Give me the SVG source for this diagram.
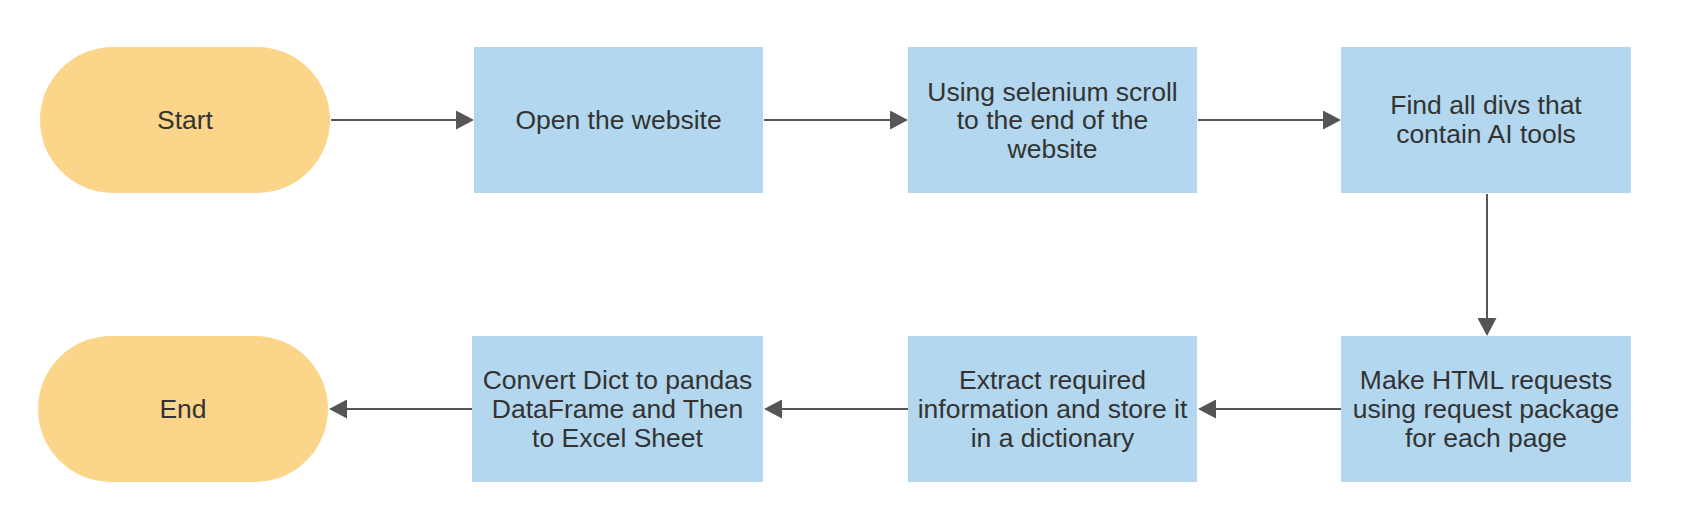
<svg xmlns="http://www.w3.org/2000/svg" width="1705" height="510" viewBox="0 0 1705 510">
<style>
.term{fill:#FBD58A;}
.proc{fill:#B2D7EE;}
text{font-family:"Liberation Sans",Arial,sans-serif;font-size:26.5px;fill:#333333;text-anchor:middle;}
.conn{stroke:#555555;stroke-width:2;fill:none;marker-end:url(#arr);}
</style>
<defs>
<marker id="arr" markerUnits="userSpaceOnUse" markerWidth="18" markerHeight="19" refX="16" refY="9.5" orient="auto">
<path d="M0,0 L18,9.5 L0,19 Z" fill="#555555"/>
</marker>
</defs>
<rect width="1705" height="510" fill="#FFFFFF"/>
<g id="connectors">
<line class="conn" x1="331" y1="120" x2="472" y2="120"/>
<line class="conn" x1="764" y1="120" x2="906" y2="120"/>
<line class="conn" x1="1198" y1="120" x2="1339" y2="120"/>
<line class="conn" x1="1487" y1="194" x2="1487" y2="334"/>
<line class="conn" x1="1341" y1="409" x2="1200" y2="409"/>
<line class="conn" x1="908" y1="409" x2="766" y2="409"/>
<line class="conn" x1="472" y1="409" x2="331" y2="409"/>
</g>
<g id="start">
<rect class="term" x="40" y="47" width="290" height="146" rx="73" ry="73"/>
<text x="185" y="129">Start</text>
</g>
<g id="open">
<rect class="proc" x="474" y="47" width="289" height="146"/>
<text x="618.5" y="129">Open the website</text>
</g>
<g id="scroll">
<rect class="proc" x="908" y="47" width="289" height="146"/>
<text x="1052.5" y="100.5">Using selenium scroll</text>
<text x="1052.5" y="129">to the end of the</text>
<text x="1052.5" y="157.5">website</text>
</g>
<g id="find">
<rect class="proc" x="1341" y="47" width="290" height="146"/>
<text x="1486" y="114">Find all divs that</text>
<text x="1486" y="143">contain AI tools</text>
</g>
<g id="requests">
<rect class="proc" x="1341" y="336" width="290" height="146"/>
<text x="1486" y="389">Make HTML requests</text>
<text x="1486" y="418">using request package</text>
<text x="1486" y="447">for each page</text>
</g>
<g id="extract">
<rect class="proc" x="908" y="336" width="289" height="146"/>
<text x="1052.5" y="389">Extract required</text>
<text x="1052.5" y="418">information and store it</text>
<text x="1052.5" y="447">in a dictionary</text>
</g>
<g id="convert">
<rect class="proc" x="472" y="336" width="291" height="146"/>
<text x="617.5" y="389">Convert Dict to pandas</text>
<text x="617.5" y="418">DataFrame and Then</text>
<text x="617.5" y="447">to Excel Sheet</text>
</g>
<g id="end">
<rect class="term" x="38" y="336" width="290" height="146" rx="73" ry="73"/>
<text x="183" y="418">End</text>
</g>
</svg>
